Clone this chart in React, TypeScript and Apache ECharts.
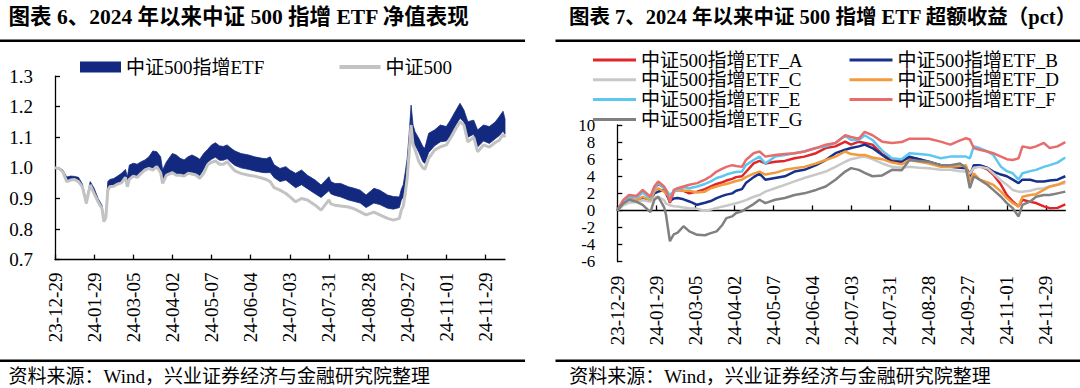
import React, { useEffect, useRef } from 'react';
import * as echarts from 'echarts';

// ---------- shared x-axis (trading-day index since 23-12-29) ----------
const TICK_LABELS = ['23-12-29', '24-01-29', '24-03-05', '24-04-02', '24-05-07', '24-06-04', '24-07-03', '24-07-31', '24-08-28', '24-09-27', '24-11-01', '24-11-29'];
const TICK_STEP = 20;
const X_MAX = 230;

// ---------- left chart: NAV ----------
const NAV_X = [0, 2, 4, 6, 8, 10, 12, 14, 16, 18, 20, 22, 24, 25, 26, 27, 28, 30, 32, 34, 36, 37, 38, 40, 42, 44, 46, 48, 50, 52, 54, 55, 57, 60, 62, 64, 66, 68, 70, 72, 74, 76, 78, 80, 82, 84, 86, 88, 90, 92, 95, 99, 102, 106, 108, 110, 112, 115, 118, 120, 123, 126, 129, 133, 136, 140, 141, 143, 146, 150, 153, 156, 159, 163, 166, 170, 173, 176, 177, 178, 179, 180, 181, 182, 183, 184, 186, 188, 189, 191, 194, 197, 200, 202, 204, 207, 209, 211, 214, 216, 219, 222, 225, 227, 229, 230];
const NAV_ETF_HIGH = [1.000, 1.001, 0.993, 0.970, 0.973, 0.972, 0.969, 0.947, 0.895, 0.955, 0.933, 0.900, 0.878, 0.835, 0.850, 0.955, 0.962, 0.965, 0.973, 0.982, 0.995, 0.970, 1.009, 1.015, 1.012, 1.020, 1.026, 1.036, 1.055, 1.053, 1.036, 0.993, 1.020, 1.047, 1.042, 1.031, 1.026, 1.036, 1.042, 1.036, 1.028, 1.047, 1.060, 1.075, 1.082, 1.072, 1.070, 1.075, 1.064, 1.055, 1.047, 1.042, 1.036, 1.031, 1.030, 1.036, 1.010, 0.998, 1.004, 0.993, 0.982, 0.993, 0.976, 0.960, 0.944, 0.971, 0.955, 0.949, 0.949, 0.938, 0.933, 0.927, 0.911, 0.933, 0.927, 0.911, 0.906, 0.905, 0.930, 0.945, 0.985, 1.030, 1.110, 1.205, 1.140, 1.118, 1.096, 1.070, 1.064, 1.113, 1.124, 1.140, 1.135, 1.155, 1.178, 1.211, 1.189, 1.151, 1.156, 1.124, 1.140, 1.135, 1.150, 1.167, 1.185, 1.160];
const NAV_ETF_LOW = [1.000, 0.998, 0.987, 0.955, 0.960, 0.962, 0.955, 0.938, 0.884, 0.944, 0.916, 0.889, 0.867, 0.824, 0.838, 0.927, 0.938, 0.940, 0.947, 0.951, 0.969, 0.940, 0.965, 0.975, 0.972, 0.985, 0.996, 1.000, 0.996, 1.007, 0.988, 0.952, 0.979, 0.988, 0.980, 0.980, 0.976, 0.986, 0.985, 0.982, 0.975, 0.995, 1.018, 1.028, 1.035, 1.025, 1.025, 1.030, 1.018, 1.008, 1.000, 0.995, 0.990, 0.985, 0.984, 0.985, 0.968, 0.955, 0.960, 0.950, 0.935, 0.945, 0.932, 0.915, 0.903, 0.925, 0.915, 0.910, 0.905, 0.895, 0.890, 0.885, 0.870, 0.885, 0.880, 0.868, 0.865, 0.870, 0.895, 0.905, 0.945, 0.995, 1.075, 1.160, 1.090, 1.075, 1.050, 1.020, 1.015, 1.050, 1.072, 1.085, 1.088, 1.105, 1.130, 1.162, 1.150, 1.100, 1.110, 1.068, 1.088, 1.080, 1.095, 1.105, 1.120, 1.110];
const NAV_CSI500 = [1.000, 0.998, 0.987, 0.955, 0.960, 0.962, 0.955, 0.938, 0.884, 0.944, 0.916, 0.889, 0.867, 0.824, 0.838, 0.927, 0.938, 0.940, 0.947, 0.951, 0.969, 0.938, 0.962, 0.973, 0.969, 0.982, 0.993, 0.998, 0.993, 1.004, 0.984, 0.949, 0.976, 0.984, 0.976, 0.976, 0.973, 0.982, 0.980, 0.976, 0.966, 0.982, 1.010, 1.018, 1.023, 1.012, 1.012, 1.020, 1.004, 0.990, 0.982, 0.976, 0.973, 0.966, 0.962, 0.955, 0.935, 0.927, 0.916, 0.906, 0.889, 0.900, 0.895, 0.878, 0.862, 0.895, 0.882, 0.878, 0.875, 0.872, 0.866, 0.856, 0.846, 0.855, 0.846, 0.835, 0.829, 0.835, 0.862, 0.875, 0.915, 0.965, 1.050, 1.140, 1.075, 1.060, 1.020, 1.000, 0.995, 1.031, 1.058, 1.069, 1.075, 1.095, 1.118, 1.151, 1.140, 1.085, 1.100, 1.053, 1.075, 1.068, 1.083, 1.090, 1.110, 1.100];

// ---------- right chart: excess return (pct) ----------
const EX_Y_TICKS = [-6, -4, -2, 0, 2, 4, 6, 8, 10];
const EX_X = [0, 3, 6, 10, 13, 17, 19, 21, 24, 25, 27, 29, 31, 34, 37, 41, 45, 48, 51, 54, 56, 59, 61, 64, 66, 70, 73, 76, 81, 86, 91, 96, 102, 107, 112, 117, 120, 124, 127, 131, 136, 141, 146, 150, 155, 160, 166, 171, 176, 179, 181, 183, 186, 190, 193, 197, 200, 203, 206, 208, 212, 215, 219, 222, 226, 230];
const EX_A = [0, 1.1, 1.5, 1.7, 2.2, 1.5, 2.6, 3.1, 2.7, 2.3, 0.9, 2.2, 2.4, 2.3, 2.0, 2.2, 2.5, 2.8, 3.1, 3.3, 3.5, 3.7, 3.9, 4.0, 4.5, 5.5, 5.8, 5.5, 5.7, 5.8, 6.1, 6.3, 6.7, 7.3, 7.5, 8.05, 7.7, 8.05, 7.9, 7.7, 6.6, 5.9, 5.8, 6.2, 6.0, 5.6, 5.3, 5.2, 5.1, 5.0, 4.3, 5.0, 5.2, 4.8, 4.2, 3.0, 1.8, 1.05, 0.47, 1.25, 1.0, 0.86, 0.47, 0.27, 0.3, 0.7];
const EX_B = [0, 1.0, 1.3, 1.2, 1.5, 1.2, 2.0, 2.2, 2.4, 2.0, 1.1, 1.4, 1.45, 1.3, 1.05, 0.66, 0.9, 1.1, 1.45, 1.7, 1.85, 2.0, 2.3, 2.5, 3.2, 3.9, 4.3, 3.6, 3.8, 4.0, 4.55, 4.75, 5.3, 5.9, 6.7, 7.1, 7.3, 7.5, 7.7, 7.3, 6.5, 5.7, 5.7, 6.3, 6.0, 5.7, 5.3, 5.1, 5.0, 4.95, 4.0, 5.3, 5.3, 5.0, 4.55, 4.2, 4.0, 3.6, 3.2, 3.6, 3.6, 3.4, 3.4, 3.5, 3.6, 4.0];
const EX_C = [0, 0.6, 0.9, 1.0, 1.2, 1.0, 1.5, 1.6, 1.2, 0.8, 0.6, 0.5, 0.45, 0.35, 0.27, 0.2, -0.05, 0.1, 0.3, 0.45, 0.55, 0.74, 0.85, 1.05, 1.2, 1.6, 1.8, 2.2, 2.6, 3.0, 3.4, 3.8, 4.2, 4.55, 5.1, 5.7, 6.0, 6.2, 6.3, 6.0, 5.5, 5.1, 5.0, 5.1, 5.0, 4.95, 4.75, 4.75, 4.6, 4.55, 4.3, 5.0, 5.1, 4.95, 4.35, 3.5, 3.0, 2.4, 2.2, 2.2, 2.3, 2.5, 2.6, 2.8, 3.0, 3.2];
const EX_D = [0, 0.9, 1.3, 1.2, 1.6, 1.2, 2.2, 2.6, 2.2, 2.0, 1.5, 2.2, 2.4, 2.3, 2.3, 2.1, 2.2, 2.6, 2.8, 3.0, 3.1, 3.3, 3.45, 3.6, 3.9, 4.3, 4.55, 4.2, 4.4, 4.75, 4.95, 5.1, 5.5, 5.9, 6.3, 6.9, 6.6, 6.5, 6.5, 6.2, 6.0, 5.6, 5.4, 5.9, 5.7, 5.5, 5.1, 5.1, 5.2, 5.3, 3.4, 4.35, 3.6, 3.3, 3.0, 2.2, 1.45, 0.86, 0.47, 1.6, 1.8, 1.9, 2.4, 2.8, 3.0, 3.4];
const EX_E = [0, 1.0, 1.6, 1.5, 2.1, 1.4, 2.6, 3.2, 2.6, 2.4, 1.8, 2.2, 2.5, 2.7, 2.6, 2.8, 3.1, 3.4, 3.8, 4.0, 4.2, 4.4, 4.5, 4.55, 5.3, 5.9, 6.3, 5.5, 6.3, 6.5, 6.7, 6.9, 7.3, 7.5, 7.9, 8.75, 8.25, 8.25, 8.8, 8.25, 7.0, 6.1, 6.0, 6.7, 6.6, 6.5, 6.1, 6.3, 6.3, 6.3, 6.1, 7.5, 7.3, 6.9, 6.5, 5.1, 4.6, 4.35, 3.6, 4.35, 4.6, 4.75, 5.1, 5.3, 5.6, 6.2];
const EX_F = [0, 1.2, 1.8, 1.7, 2.4, 1.6, 2.8, 3.4, 2.8, 2.4, 1.0, 2.4, 2.6, 2.8, 3.0, 3.2, 3.6, 4.0, 4.55, 4.9, 5.1, 5.3, 5.2, 5.1, 5.9, 6.7, 6.9, 6.3, 6.5, 6.6, 6.7, 6.9, 7.3, 7.7, 7.9, 8.8, 8.6, 8.4, 9.2, 8.8, 8.05, 7.9, 8.0, 8.4, 8.4, 8.4, 8.05, 7.7, 8.2, 8.45, 8.3, 7.3, 7.1, 6.9, 6.7, 6.3, 6.0, 5.9, 6.1, 7.5, 7.3, 7.5, 7.9, 7.3, 7.5, 8.0];
const EX_G = [0, 0.8, 1.25, 1.0, 0.66, -0.2, 1.25, 1.6, 0.4, -0.5, -3.6, -2.8, -2.6, -1.85, -2.45, -2.85, -2.9, -2.65, -2.45, -1.67, -0.9, -0.7, -0.3, -0.1, 0.2, 0.74, 1.25, 0.86, 1.25, 1.45, 1.8, 2.0, 2.4, 2.8, 3.6, 4.55, 4.95, 4.75, 4.4, 4.0, 4.1, 4.75, 4.7, 5.9, 5.8, 5.7, 5.3, 5.3, 5.5, 4.95, 2.6, 4.0, 3.6, 3.0, 2.4, 1.6, 0.86, 0.27, -0.7, 0.66, 1.05, 1.6, 1.8, 1.8, 2.0, 2.2];

const EX_NAMES = ['中证500指增ETF_A', '中证500指增ETF_B', '中证500指增ETF_C', '中证500指增ETF_D', '中证500指增ETF_E', '中证500指增ETF_F', '中证500指增ETF_G'];
const EX_VALUES = [EX_A, EX_B, EX_C, EX_D, EX_E, EX_F, EX_G];
const EX_COLORS = ['#E1262B', '#17318A', '#C8C8C8', '#F39B3C', '#5CC7F0', '#E96C6C', '#808080'];

const NAVY = '#13297F';
const CSI_GRAY = '#C3C3C3';
const FONT = '"Liberation Serif", "Noto Sans CJK SC", serif';
const TITLE_FONT = '"Liberation Serif", "Noto Sans CJK SC", sans-serif';

export default function App() {
  const ref = useRef<HTMLDivElement>(null);

  useEffect(() => {
    const chart = echarts.init(ref.current!, null, { renderer: 'svg' });
    const tickValues = TICK_LABELS.map((_, i) => i * TICK_STEP);
    const fmtX = (v: number) => TICK_LABELS[Math.round(v / TICK_STEP)] ?? '';
    const axisLineStyle = { color: '#000', width: 1.3 };
    const labelStyle = { fontSize: 19, fontFamily: FONT, color: '#000' };
    const exLabelStyle = { fontSize: 17, fontFamily: FONT, color: '#000', lineHeight: 16 };

    const pair = (xs: number[], ys: number[]) => xs.map((x, i) => [x, ys[i]]);
    const legendText = { fontSize: 19, fontFamily: FONT, color: '#000', lineHeight: 19 };

    // right y labels split over two co-located axes so none is auto-hidden
    const exYLabelsA = EX_Y_TICKS.filter((_, i) => i % 2 === 0);
    const exYLabelsB = EX_Y_TICKS.filter((_, i) => i % 2 === 1);

    // ETF range band: polygon through upper edge then back along lower edge
    const renderBand = (params: any, api: any) => {
      if (params.dataIndex !== 0) return { type: 'group', children: [] };
      const pts: number[][] = [];
      for (let i = 0; i < NAV_X.length; i++) pts.push(api.coord([NAV_X[i], NAV_ETF_HIGH[i]]));
      for (let i = NAV_X.length - 1; i >= 0; i--) pts.push(api.coord([NAV_X[i], NAV_ETF_LOW[i]]));
      return { type: 'polygon', shape: { points: pts }, style: { fill: NAVY, stroke: NAVY, lineWidth: 0.8 } };
    };

    const option: any = {
      animation: false,
      backgroundColor: '#fff',
      grid: [
        { left: 55, top: 76.1, width: 450, height: 183.5 },
        { left: 617.3, top: 125, width: 448, height: 136.7 },
      ],
      xAxis: [
        {
          type: 'value', gridIndex: 0, min: 0, max: X_MAX,
          axisLine: { show: true, lineStyle: axisLineStyle },
          axisTick: { show: true, inside: true, length: 5, customValues: tickValues, lineStyle: axisLineStyle },
          axisLabel: { ...labelStyle, customValues: tickValues, rotate: 90, margin: 13, formatter: fmtX },
          splitLine: { show: false },
        },
        {
          type: 'value', gridIndex: 1, min: 0, max: X_MAX,
          axisLine: { show: true, onZero: true, lineStyle: axisLineStyle },
          axisTick: { show: true, inside: true, length: 5, customValues: tickValues, lineStyle: axisLineStyle },
          axisLabel: { show: false },
          splitLine: { show: false },
        },
        {
          type: 'value', gridIndex: 1, min: 0, max: X_MAX, position: 'bottom',
          axisLine: { show: false, onZero: false },
          axisTick: { show: false },
          axisLabel: { ...labelStyle, customValues: tickValues, rotate: 90, margin: 14, formatter: fmtX },
          splitLine: { show: false },
        },
      ],
      yAxis: [
        {
          type: 'value', gridIndex: 0, min: 0.7, max: 1.3, interval: 0.1,
          axisLine: { show: true, lineStyle: axisLineStyle },
          axisTick: { show: true, inside: true, length: 5, lineStyle: axisLineStyle },
          axisLabel: { ...labelStyle, margin: 22, showMinLabel: true, showMaxLabel: true, formatter: (v: number) => v.toFixed(1) },
          splitLine: { show: false },
        },
        {
          type: 'value', gridIndex: 1, min: -6, max: 10, interval: 2, position: 'left',
          axisLine: { show: true, lineStyle: axisLineStyle },
          axisTick: { show: true, inside: true, length: 5, customValues: EX_Y_TICKS, lineStyle: axisLineStyle },
          axisLabel: { ...exLabelStyle, margin: 22, customValues: exYLabelsA },
          splitLine: { show: false },
        },
        {
          type: 'value', gridIndex: 1, min: -6, max: 10, interval: 2, position: 'left', offset: 0,
          axisLine: { show: false },
          axisTick: { show: false },
          axisLabel: { ...exLabelStyle, margin: 22, customValues: exYLabelsB },
          splitLine: { show: false },
        },
      ],
      legend: [
        {
          data: ['中证500指增ETF'], left: 80, top: 57.5, padding: 0, icon: 'rect', itemWidth: 41, itemHeight: 11,
          selectedMode: false, textStyle: legendText,
        },
        {
          data: ['中证500'], left: 339.5, top: 57.5, padding: 0, icon: 'rect', itemWidth: 41, itemHeight: 4,
          selectedMode: false, textStyle: legendText,
        },
        {
          data: [EX_NAMES[0], EX_NAMES[2], EX_NAMES[4], EX_NAMES[6]], orient: 'vertical',
          left: 593, top: 50.5, padding: 0, icon: 'rect', itemWidth: 43, itemHeight: 3, itemGap: 0.8,
          selectedMode: false, textStyle: legendText,
        },
        {
          data: [EX_NAMES[1], EX_NAMES[3], EX_NAMES[5]], orient: 'vertical',
          left: 849.5, top: 50.5, padding: 0, icon: 'rect', itemWidth: 43, itemHeight: 3, itemGap: 0.8,
          selectedMode: false, textStyle: legendText,
        },
      ],
      series: [
        {
          name: '中证500指增ETF', type: 'custom', coordinateSystem: 'cartesian2d', xAxisIndex: 0, yAxisIndex: 0,
          data: NAV_X.map((x, i) => [x, NAV_ETF_HIGH[i], NAV_ETF_LOW[i]]),
          encode: { x: 0, y: [1, 2] },
          renderItem: renderBand,
          itemStyle: { color: NAVY },
          silent: true,
        },
        {
          name: '中证500', type: 'line', xAxisIndex: 0, yAxisIndex: 0,
          data: pair(NAV_X, NAV_CSI500), symbol: 'none',
          lineStyle: { width: 3, color: CSI_GRAY }, itemStyle: { color: CSI_GRAY },
        },
        ...EX_NAMES.map((name, k) => ({
          name, type: 'line', xAxisIndex: 1, yAxisIndex: 1,
          data: pair(EX_X, EX_VALUES[k]), symbol: 'none',
          lineStyle: { width: 2.5, color: EX_COLORS[k] }, itemStyle: { color: EX_COLORS[k] },
        })),
      ],
      graphic: [
        { type: 'text', x: 8.6, y: 16.5, style: { text: '图表 6、2024 年以来中证 500 指增 ETF 净值表现', fontSize: 21.5, fontWeight: 'bold', fontFamily: TITLE_FONT, fill: '#000', verticalAlign: 'middle' } },
        { type: 'text', x: 569, y: 16.5, style: { text: '图表 7、2024 年以来中证 500 指增 ETF 超额收益（pct）', fontSize: 20.5, fontWeight: 'bold', fontFamily: TITLE_FONT, fill: '#000', verticalAlign: 'middle' } },
        { type: 'rect', shape: { x: 0, y: 39.5, width: 525, height: 2.5 }, style: { fill: '#000' } },
        { type: 'rect', shape: { x: 555.5, y: 39.5, width: 524.5, height: 2.5 }, style: { fill: '#000' } },
        { type: 'rect', shape: { x: 0, y: 359.5, width: 525, height: 2.5 }, style: { fill: '#000' } },
        { type: 'rect', shape: { x: 555.5, y: 359.5, width: 524.5, height: 2.5 }, style: { fill: '#000' } },
        { type: 'text', x: 8.6, y: 376, style: { text: '资料来源：Wind，兴业证券经济与金融研究院整理', fontSize: 19, fontFamily: FONT, fill: '#000', verticalAlign: 'middle' } },
        { type: 'text', x: 569.3, y: 376, style: { text: '资料来源：Wind，兴业证券经济与金融研究院整理', fontSize: 19, fontFamily: FONT, fill: '#000', verticalAlign: 'middle' } },
      ],
    };

    chart.setOption(option);
    return () => chart.dispose();
  }, []);

  return (
    <div
      ref={ref}
      style={{ position: 'fixed', left: 0, top: 0, width: 1080, height: 388, background: '#fff' }}
    />
  );
}
